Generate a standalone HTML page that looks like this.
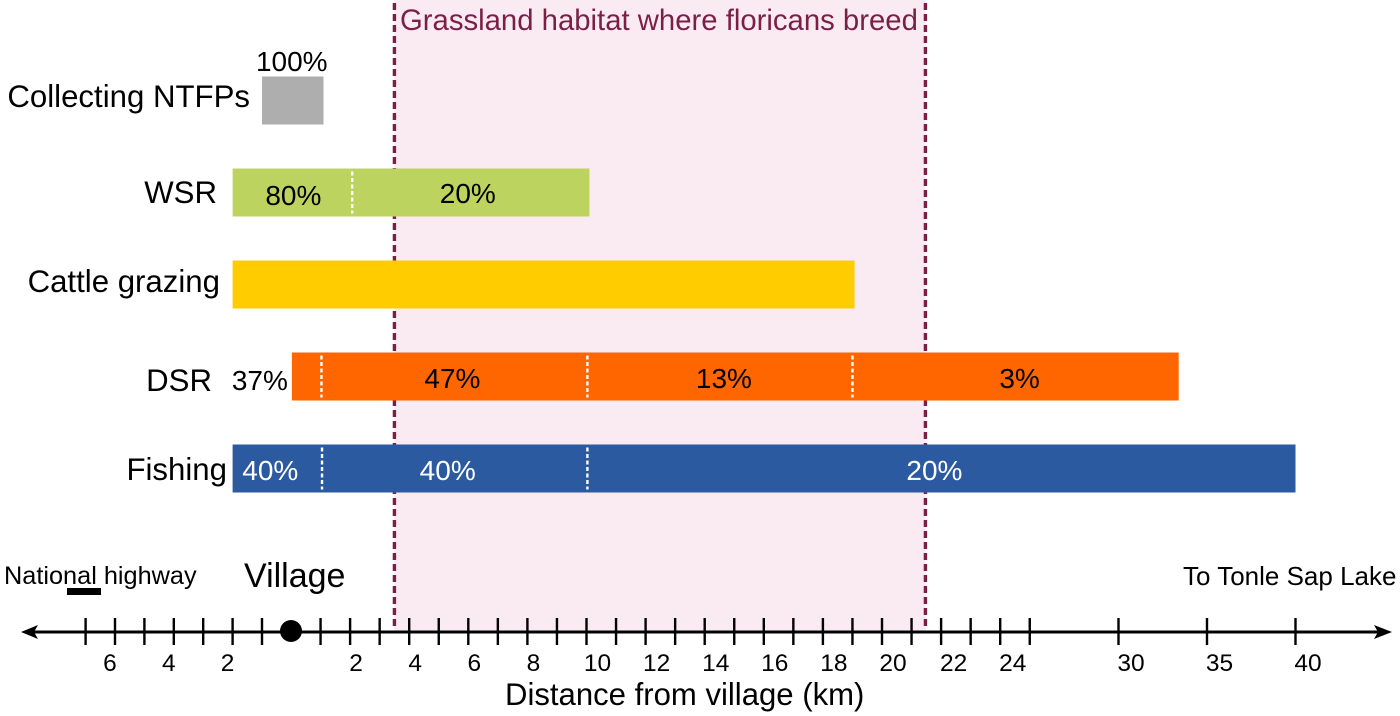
<!DOCTYPE html>
<html>
<head>
<meta charset="utf-8">
<title>Activities by distance from village</title>
<style>
html,body{margin:0;padding:0;background:#fff;width:1400px;height:716px;overflow:hidden}
svg{display:block;font-family:"Liberation Sans",Arial,sans-serif}
</style>
</head>
<body>
<svg id="chart" width="1400" height="716" viewBox="0 0 1400 716" xmlns="http://www.w3.org/2000/svg"></svg>
<script>
// ---- data ----
const categories = ["Collecting NTFPs", "WSR", "Cattle grazing", "DSR", "Fishing"];
const ntfpBreaks = [-1, 1.1];
const ntfpShares = [100];
const wsrBreaks = [-2, 2.07, 10.1];
const wsrShares = [80, 20];
const cattleBreaks = [-2, 19.07];
const cattleShares = [];
const dsrBreaks = [0.03, 1.03, 10.03, 19, 33.4];
const dsrShares = [37, 47, 13, 3];
const fishingBreaks = [-2, 1.05, 10.03, 40];
const fishingShares = [40, 40, 20];
const habitatRange = [3.5, 21.47];
const villageSideTicks = [1, 2, 3, 4, 5, 6, 7];
const lakeSideTicks = [1, 2, 3, 4, 5, 6, 7, 8, 9, 10, 11, 12, 13, 14, 15, 16, 17, 18, 19, 20, 21, 22, 23, 24, 25, 30, 35, 40];
const villageSideLabels = [2, 4, 6];
const lakeSideLabels = [2, 4, 6, 8, 10, 12, 14, 16, 18, 20, 22, 24, 30, 35, 40];

// ---- scales ----
const x = km => km < 0 ? 291.4 + 29.4 * km : (km <= 25 ? 291 + 29.55 * km : 1030 + 17.7 * (km - 25));
const rowY = i => 100.5 + 92 * i;

const svg = document.getElementById('chart');
const NS = 'http://www.w3.org/2000/svg';
function mk(tag, attrs, text) {
  const e = document.createElementNS(NS, tag);
  for (const k in attrs) e.setAttribute(k, attrs[k]);
  if (text !== undefined) e.textContent = text;
  svg.appendChild(e);
  return e;
}

// ---- habitat band ----
const band = mk('rect', {x: x(habitatRange[0]), y: 0, width: x(habitatRange[1]) - x(habitatRange[0]), height: 632, fill: '#faebf3'});


habitatRange.forEach(km => {
  const l = mk('line', {x1: x(km), x2: x(km), y1: 3, y2: 630, stroke: '#7b1f47', 'stroke-width': 3.4, 'stroke-dasharray': '7 4'});
  
  
});
const habitatTitle = mk('text', {x: 400, y: 30, 'font-size': 29.3, fill: '#7b1f47'}, 'Grassland habitat where floricans breed');



// ---- bars ----
const rows = [
  {b: ntfpBreaks, s: ntfpShares, fill: '#aeaeae', ink: '#000', labelEnd: 250, base: 107, pctDx: -1, pctBase: 71},
  {b: wsrBreaks, s: wsrShares, fill: '#bcd45f', ink: '#000', labelEnd: 217, base: 203, pctDx: -2, pctBase: 204},
  {b: cattleBreaks, s: cattleShares, fill: '#ffcc00', ink: '#000', labelEnd: 220, base: 292, pctDx: 0, pctBase: 292},
  {b: dsrBreaks, s: dsrShares, fill: '#ff6600', ink: '#000', labelEnd: 212, base: 391, pctDx: 1, pctBase: 388},
  {b: fishingBreaks, s: fishingShares, fill: '#2b5aa0', ink: '#fff', labelEnd: 227, base: 480, pctDx: -7, pctBase: 480}
];
rows.forEach((r, i) => {
  const cy = rowY(i), h = 48;
  const name = categories[i].toLowerCase().replace(/\s+/g, '-');
  const lab = mk('text', {x: r.labelEnd, y: r.base, 'text-anchor': 'end', 'font-size': 31.2, fill: '#000'}, categories[i]);
  
  
  const x0 = x(r.b[0]), x1 = x(r.b[r.b.length - 1]);
  const bar = mk('rect', {x: x0, y: cy - h / 2, width: x1 - x0, height: h, fill: r.fill});
  
  
  for (let j = 1; j < r.b.length - 1; j++) {
    const d = mk('line', {x1: x(r.b[j]), x2: x(r.b[j]), y1: cy - h / 2 + 3, y2: cy + h / 2 - 3, stroke: '#fff', 'stroke-width': 2.4, 'stroke-dasharray': '4 2.5'});
    
    
  }
  r.s.forEach((v, j) => {
    let px = (x(r.b[j]) + x(r.b[j + 1])) / 2 + r.pctDx, py = r.pctBase, ink = r.ink;
    if (r.s.length === 2 && j === 0) { px += 3; py = 205; }
    if (r.s.length === 2 && j === 1) { px -= 1; py = 203; }
    if (r.s.length === 4 && j === 0) { px = x(r.b[0]) - 32; py = 390; ink = '#000'; }
    if (r.s.length === 4 && j > 0) { px += (j === 1 ? -3 : 3); }
    const t = mk('text', {x: px, y: py, 'text-anchor': 'middle', 'font-size': 28, fill: ink}, v + '%');
    
    
  });
});

// ---- axis ----
const axisLine = mk('line', {x1: 30, x2: 1382, y1: 632, y2: 632, stroke: '#000', 'stroke-width': 3});


const arrowL = mk('polygon', {points: '21,632 38,625 34,632 38,639', fill: '#000'});


const arrowR = mk('polygon', {points: '1392,632 1374,625 1378,632 1374,639', fill: '#000'});


function tick(px) {
  const t = mk('line', {x1: px, x2: px, y1: 618, y2: 645, stroke: '#000', 'stroke-width': 2.4});
  
  
}
villageSideTicks.forEach(k => tick(x(-k)));
lakeSideTicks.forEach(k => tick(x(k)));
villageSideLabels.forEach(k => {
  const t = mk('text', {x: x(-k) - 5, y: 671, 'text-anchor': 'middle', 'font-size': 24.5, fill: '#000'}, k);
  
  
});
lakeSideLabels.forEach(k => {
  const dx = k < 10 ? 6 : (k <= 20 ? 11 : 12.5);
  const t = mk('text', {x: x(k) + dx, y: 671, 'text-anchor': 'middle', 'font-size': 24.5, fill: '#000'}, k);
  
  
});
const dot = mk('circle', {cx: x(0), cy: 631, r: 11, fill: '#000'});


const axisTitle = mk('text', {x: 505, y: 705, 'font-size': 31.1, fill: '#000'}, 'Distance from village (km)');


const village = mk('text', {x: 244, y: 587, 'font-size': 34, fill: '#000'}, 'Village');


const highway = mk('text', {x: 4, y: 584, 'font-size': 25.3, fill: '#000'}, 'National highway');


const highwayBar = mk('rect', {x: 67, y: 588, width: 34, height: 7, fill: '#000'});


const lake = mk('text', {x: 1183, y: 585, 'font-size': 26, fill: '#000'}, 'To Tonle Sap Lake');


</script>
</body>
</html>
